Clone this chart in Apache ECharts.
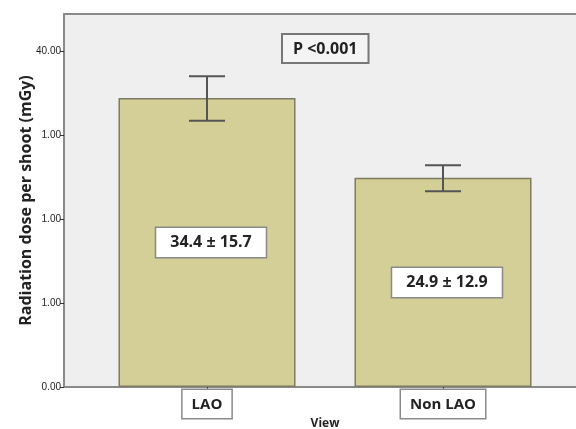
<!DOCTYPE html>
<html><head><meta charset="utf-8">
<script src="https://cdn.jsdelivr.net/npm/echarts@6/dist/echarts.min.js"></script>
<style>html,body{margin:0;padding:0;background:#fff}#c{width:576px;height:429px}</style>
</head><body><div id="c"></div>
<script>
const categories = ['LAO', 'Non LAO'];
const means = [34.4, 24.9];
const sds = [15.7, 12.9];
const ciLow = [31.7, 23.3];
const ciHigh = [37.0, 26.4];
const yTickLabels = ['0.00', '1.00', '1.00', '1.00', '40.00'];
const pText = 'P <0.001';

const FONT = '"Open Sans", "Liberation Sans", sans-serif';
const chart = echarts.init(document.getElementById('c'));
const yMax = 44.4;

chart.setOption({
  animation: false,
  backgroundColor: '#ffffff',
  grid: [
    {left: 64, top: 14, right: -3, bottom: 42, containLabel: false, outerBoundsMode: 'none',
     show: true, backgroundColor: '#efefef', borderColor: '#8a8a8a', borderWidth: 2},
    {left: 89, top: 14, right: 15, bottom: 42, containLabel: false, outerBoundsMode: 'none'}
  ],
  xAxis: [
    {gridIndex: 0, type: 'value', min: 0, max: 1, show: false},
    {gridIndex: 1, type: 'category', data: categories,
     axisLine: {show: false},
     axisTick: {show: true, alignWithLabel: true, length: 3, lineStyle: {color: '#444'}},
     axisLabel: {margin: 3, fontFamily: FONT, fontWeight: 'bold', fontSize: 15, color: '#222',
       backgroundColor: '#ffffff', borderColor: '#8a8a8a', borderWidth: 1.5, padding: [7, 9, 6, 9]},
     name: 'View', nameLocation: 'middle', nameGap: 37, nameMoveOverlap: false,
     nameTextStyle: {fontFamily: FONT, fontWeight: 'bold', fontSize: 12, color: '#222', verticalAlign: 'middle'}}
  ],
  yAxis: [
    {gridIndex: 0, type: 'value', min: 0, max: yMax, interval: 10,
     axisLine: {show: true, lineStyle: {color: '#8a8a8a', width: 2}},
     axisTick: {show: true, length: 4, lineStyle: {color: '#333'}},
     splitLine: {show: false},
     axisLabel: {fontFamily: '"Liberation Sans Narrow", "Liberation Sans", sans-serif', fontSize: 10, color: '#222', margin: 3,
       showMaxLabel: false,
       formatter: v => { const i = Math.round(v / 10); return Math.abs(v - i * 10) < 1e-6 ? (yTickLabels[i] || '') : ''; }},
     name: 'Radiation dose per shoot (mGy)', nameLocation: 'middle', nameGap: 38, nameMoveOverlap: false,
     nameTextStyle: {fontFamily: FONT, fontWeight: 'bold', fontSize: 16, color: '#222', verticalAlign: 'middle'}},
    {gridIndex: 1, type: 'value', min: 0, max: yMax, show: false}
  ],
  graphic: [{
    type: 'text', left: 281, top: 33, z: 10,
    style: {text: pText, font: 'bold 16px ' + FONT, fill: '#222',
      backgroundColor: '#f4f4f4', borderColor: '#777', borderWidth: 2, padding: [6, 10, 5, 10]}
  }],
  series: [
    {type: 'bar', xAxisIndex: 1, yAxisIndex: 1, data: means, barWidth: 177, z: 2,
     itemStyle: {color: '#d3cf96', borderColor: '#7d7b62', borderWidth: 1.5},
     label: {show: true, position: 'inside', offset: [4, 0],
       formatter: p => means[p.dataIndex].toFixed(1) + ' ± ' + sds[p.dataIndex].toFixed(1),
       fontFamily: FONT, fontWeight: 'bold', fontSize: 16, color: '#222',
       backgroundColor: '#ffffff', borderColor: '#8a8a8a', borderWidth: 1.5, padding: [7, 14, 6, 14]}},
    {type: 'custom', xAxisIndex: 1, yAxisIndex: 1, z: 5,
     data: categories.map((c, i) => [i, ciLow[i], ciHigh[i]]),
     renderItem: (params, api) => {
       const lo = api.coord([api.value(0), api.value(1)]);
       const hi = api.coord([api.value(0), api.value(2)]);
       const hw = 18;
       const st = {stroke: '#555', lineWidth: 2};
       return {type: 'group', children: [
         {type: 'line', shape: {x1: lo[0], y1: lo[1], x2: hi[0], y2: hi[1]}, style: st},
         {type: 'line', shape: {x1: lo[0] - hw, y1: lo[1], x2: lo[0] + hw, y2: lo[1]}, style: st},
         {type: 'line', shape: {x1: hi[0] - hw, y1: hi[1], x2: hi[0] + hw, y2: hi[1]}, style: st}
       ]};
     }}
  ]
});
</script></body></html>
